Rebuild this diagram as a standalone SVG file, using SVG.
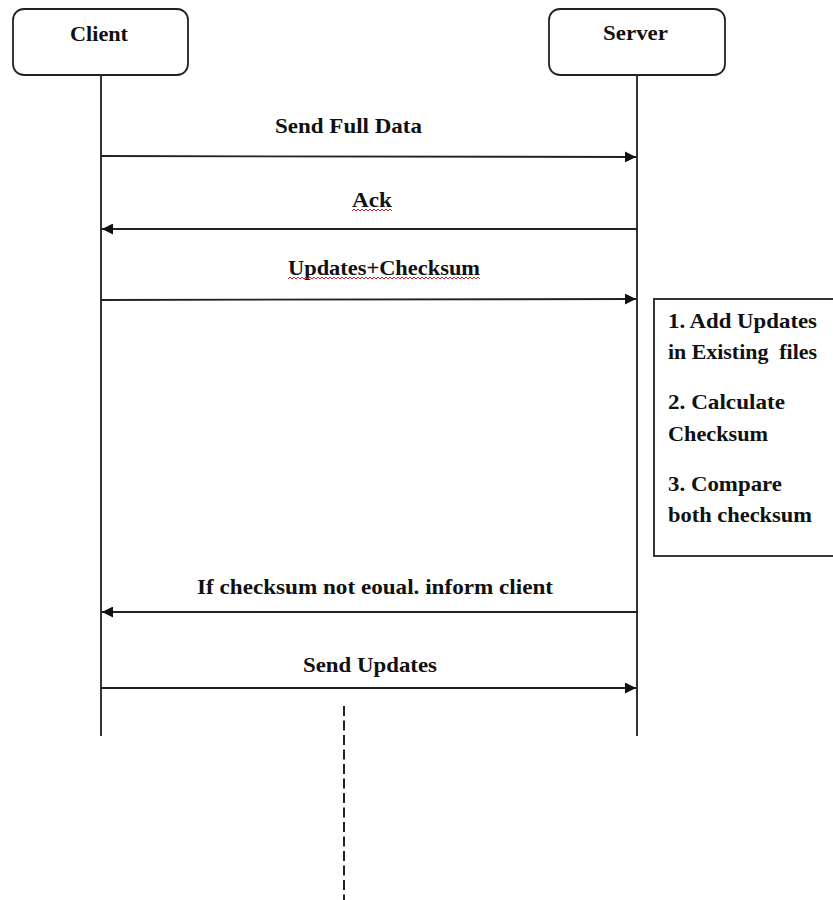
<svg xmlns="http://www.w3.org/2000/svg" width="833" height="900" viewBox="0 0 833 900">
<defs>
<style>
.t{font-family:"Liberation Serif","Times New Roman",serif;font-weight:bold;font-size:22px;fill:#111}
.box{fill:#fff;stroke:#222;stroke-width:1.8}
.life{stroke:#333;stroke-width:2;fill:none}
.msg{stroke:#222;stroke-width:1.8;fill:none}
.sq{stroke:#e02020;stroke-width:1;fill:none}
</style>
<marker id="ah" viewBox="0 0 10 10" refX="10" refY="5" markerWidth="11" markerHeight="11" markerUnits="userSpaceOnUse" orient="auto">
<path d="M0,0 L10,5 L0,10 z" fill="#111"/>
</marker>
</defs>
<rect width="833" height="900" fill="#fff"/>
<g id="client">
<rect class="box" x="13" y="9" width="175" height="66" rx="11"/>
<text class="t" x="70" y="41" textLength="58" lengthAdjust="spacingAndGlyphs">Client</text>
<line class="life" x1="101" y1="75" x2="101" y2="736"/>
</g>
<g id="server">
<rect class="box" x="549" y="9" width="176" height="66" rx="11"/>
<text class="t" x="603" y="40" textLength="65" lengthAdjust="spacingAndGlyphs">Server</text>
<line class="life" x1="637" y1="75" x2="637" y2="736"/>
</g>
<g id="note">
<rect class="box" x="654" y="299" width="190" height="257" fill="#fff"/>
<text class="t" x="668" y="328" textLength="149" lengthAdjust="spacingAndGlyphs">1. Add Updates</text>
<text class="t" x="668" y="359" textLength="149" lengthAdjust="spacingAndGlyphs" xml:space="preserve">in Existing  files</text>
<text class="t" x="668" y="409" textLength="117" lengthAdjust="spacingAndGlyphs">2. Calculate</text>
<text class="t" x="668" y="441" textLength="100" lengthAdjust="spacingAndGlyphs">Checksum</text>
<text class="t" x="668" y="491" textLength="114" lengthAdjust="spacingAndGlyphs">3. Compare</text>
<text class="t" x="668" y="522" textLength="144" lengthAdjust="spacingAndGlyphs">both checksum</text>
</g>
<g id="connectors">
<line class="msg" x1="101" y1="156" x2="636" y2="157" marker-end="url(#ah)"/>
<line class="msg" x1="637" y1="229" x2="102" y2="229" marker-end="url(#ah)"/>
<line class="msg" x1="101" y1="300" x2="636" y2="299" marker-end="url(#ah)"/>
<line class="msg" x1="637" y1="612" x2="102" y2="612" marker-end="url(#ah)"/>
<line class="msg" x1="101" y1="688" x2="636" y2="688" marker-end="url(#ah)"/>
<line x1="344" y1="706" x2="344" y2="900" stroke="#222" stroke-width="2" stroke-dasharray="10,4.5"/>
</g>
<g id="labels">
<text class="t" x="275" y="133" textLength="147" lengthAdjust="spacingAndGlyphs">Send Full Data</text>
<text class="t" x="352" y="207" textLength="40" lengthAdjust="spacingAndGlyphs">Ack</text>
<path class="sq" d="M352,211 l2,-2 l2,2 l2,-2 l2,2 l2,-2 l2,2 l2,-2 l2,2 l2,-2 l2,2 l2,-2 l2,2 l2,-2 l2,2 l2,-2 l2,2 l2,-2 l2,2 l2,-2 l2,2"/>
<text class="t" x="288" y="275" textLength="192" lengthAdjust="spacingAndGlyphs">Updates+Checksum</text>
<path class="sq" d="M288,279 l2,-2 l2,2 l2,-2 l2,2 l2,-2 l2,2 l2,-2 l2,2 l2,-2 l2,2 l2,-2 l2,2 l2,-2 l2,2 l2,-2 l2,2 l2,-2 l2,2 l2,-2 l2,2 l2,-2 l2,2 l2,-2 l2,2 l2,-2 l2,2 l2,-2 l2,2 l2,-2 l2,2 l2,-2 l2,2 l2,-2 l2,2 l2,-2 l2,2 l2,-2 l2,2 l2,-2 l2,2 l2,-2 l2,2 l2,-2 l2,2 l2,-2 l2,2 l2,-2 l2,2 l2,-2 l2,2 l2,-2 l2,2 l2,-2 l2,2 l2,-2 l2,2 l2,-2 l2,2 l2,-2 l2,2 l2,-2 l2,2 l2,-2 l2,2 l2,-2 l2,2 l2,-2 l2,2 l2,-2 l2,2 l2,-2 l2,2 l2,-2 l2,2 l2,-2 l2,2 l2,-2 l2,2 l2,-2 l2,2 l2,-2 l2,2 l2,-2 l2,2 l2,-2 l2,2 l2,-2 l2,2 l2,-2 l2,2 l2,-2 l2,2 l2,-2 l2,2 l2,-2 l2,2"/>
<text class="t" x="197" y="594" textLength="356" lengthAdjust="spacingAndGlyphs">If checksum not eoual. inform client</text>
<text class="t" x="303" y="672" textLength="134" lengthAdjust="spacingAndGlyphs">Send Updates</text>
</g>
</svg>
